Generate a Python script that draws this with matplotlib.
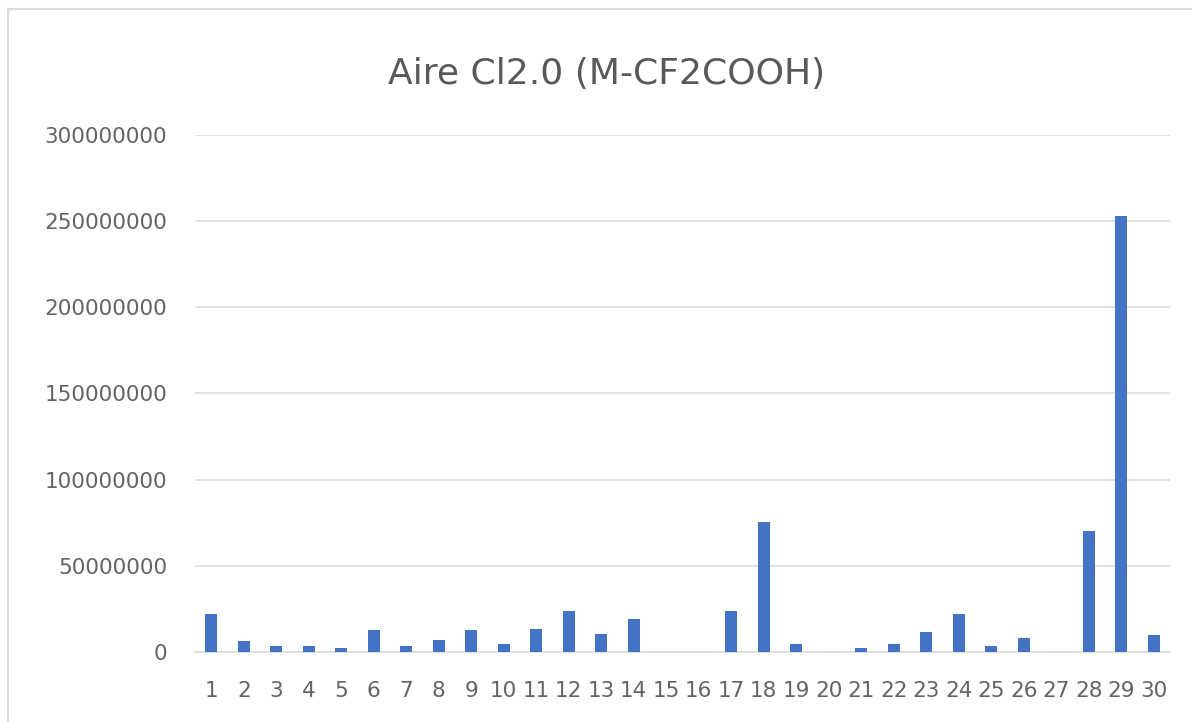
import matplotlib.pyplot as plt
from matplotlib.patches import Rectangle

plt.rcParams['font.family'] = ['DejaVu Sans']

categorias = [str(i) for i in range(1, 31)]
valores = [22000000, 6200000, 3300000, 3300000, 2300000, 12600000, 3300000, 6800000,
           12600000, 4900000, 13600000, 23600000, 10700000, 19400000, 0, 0,
           23600000, 75400000, 4900000, 0, 2300000, 4900000, 11600000, 22000000,
           3300000, 8100000, 0, 70000000, 253000000, 10000000]
yticks = [0, 50000000, 100000000, 150000000, 200000000, 250000000, 300000000]

fig = plt.figure(figsize=(11.92, 7.22), dpi=100)
fig.patches.append(Rectangle((0.007, -0.01), 1.0, 0.997, transform=fig.transFigure,
                             fill=False, edgecolor="#d9d9d9", linewidth=1.5))

ax = fig.add_axes([0.1636, 0.097, 0.818, 0.716])
x = range(len(categorias))
ax.bar(x, valores, width=0.36, color="#4472c4", zorder=3)

ax.set_xlim(-0.5, len(categorias) - 0.5)
ax.set_ylim(0, 300000000)
ax.set_yticks(yticks)
ax.set_yticklabels([str(v) for v in yticks])
ax.set_xticks(list(x))
ax.set_xticklabels(categorias)
ax.grid(axis="y", color="#dcdcdc", linewidth=1.2, zorder=0)
for s in ["top", "right", "left"]:
    ax.spines[s].set_visible(False)
ax.spines["bottom"].set_color("#dcdcdc")
ax.spines["bottom"].set_linewidth(1.2)
ax.tick_params(axis="both", length=0, colors="#636363", labelsize=15.5)
ax.tick_params(axis="y", pad=20)
ax.tick_params(axis="x", pad=21)

fig.text(0.509, 0.897, "Aire Cl2.0 (M-CF2COOH)", ha="center", va="center",
         fontsize=26, color="#595959")

fig.savefig("out.png", dpi=100)
